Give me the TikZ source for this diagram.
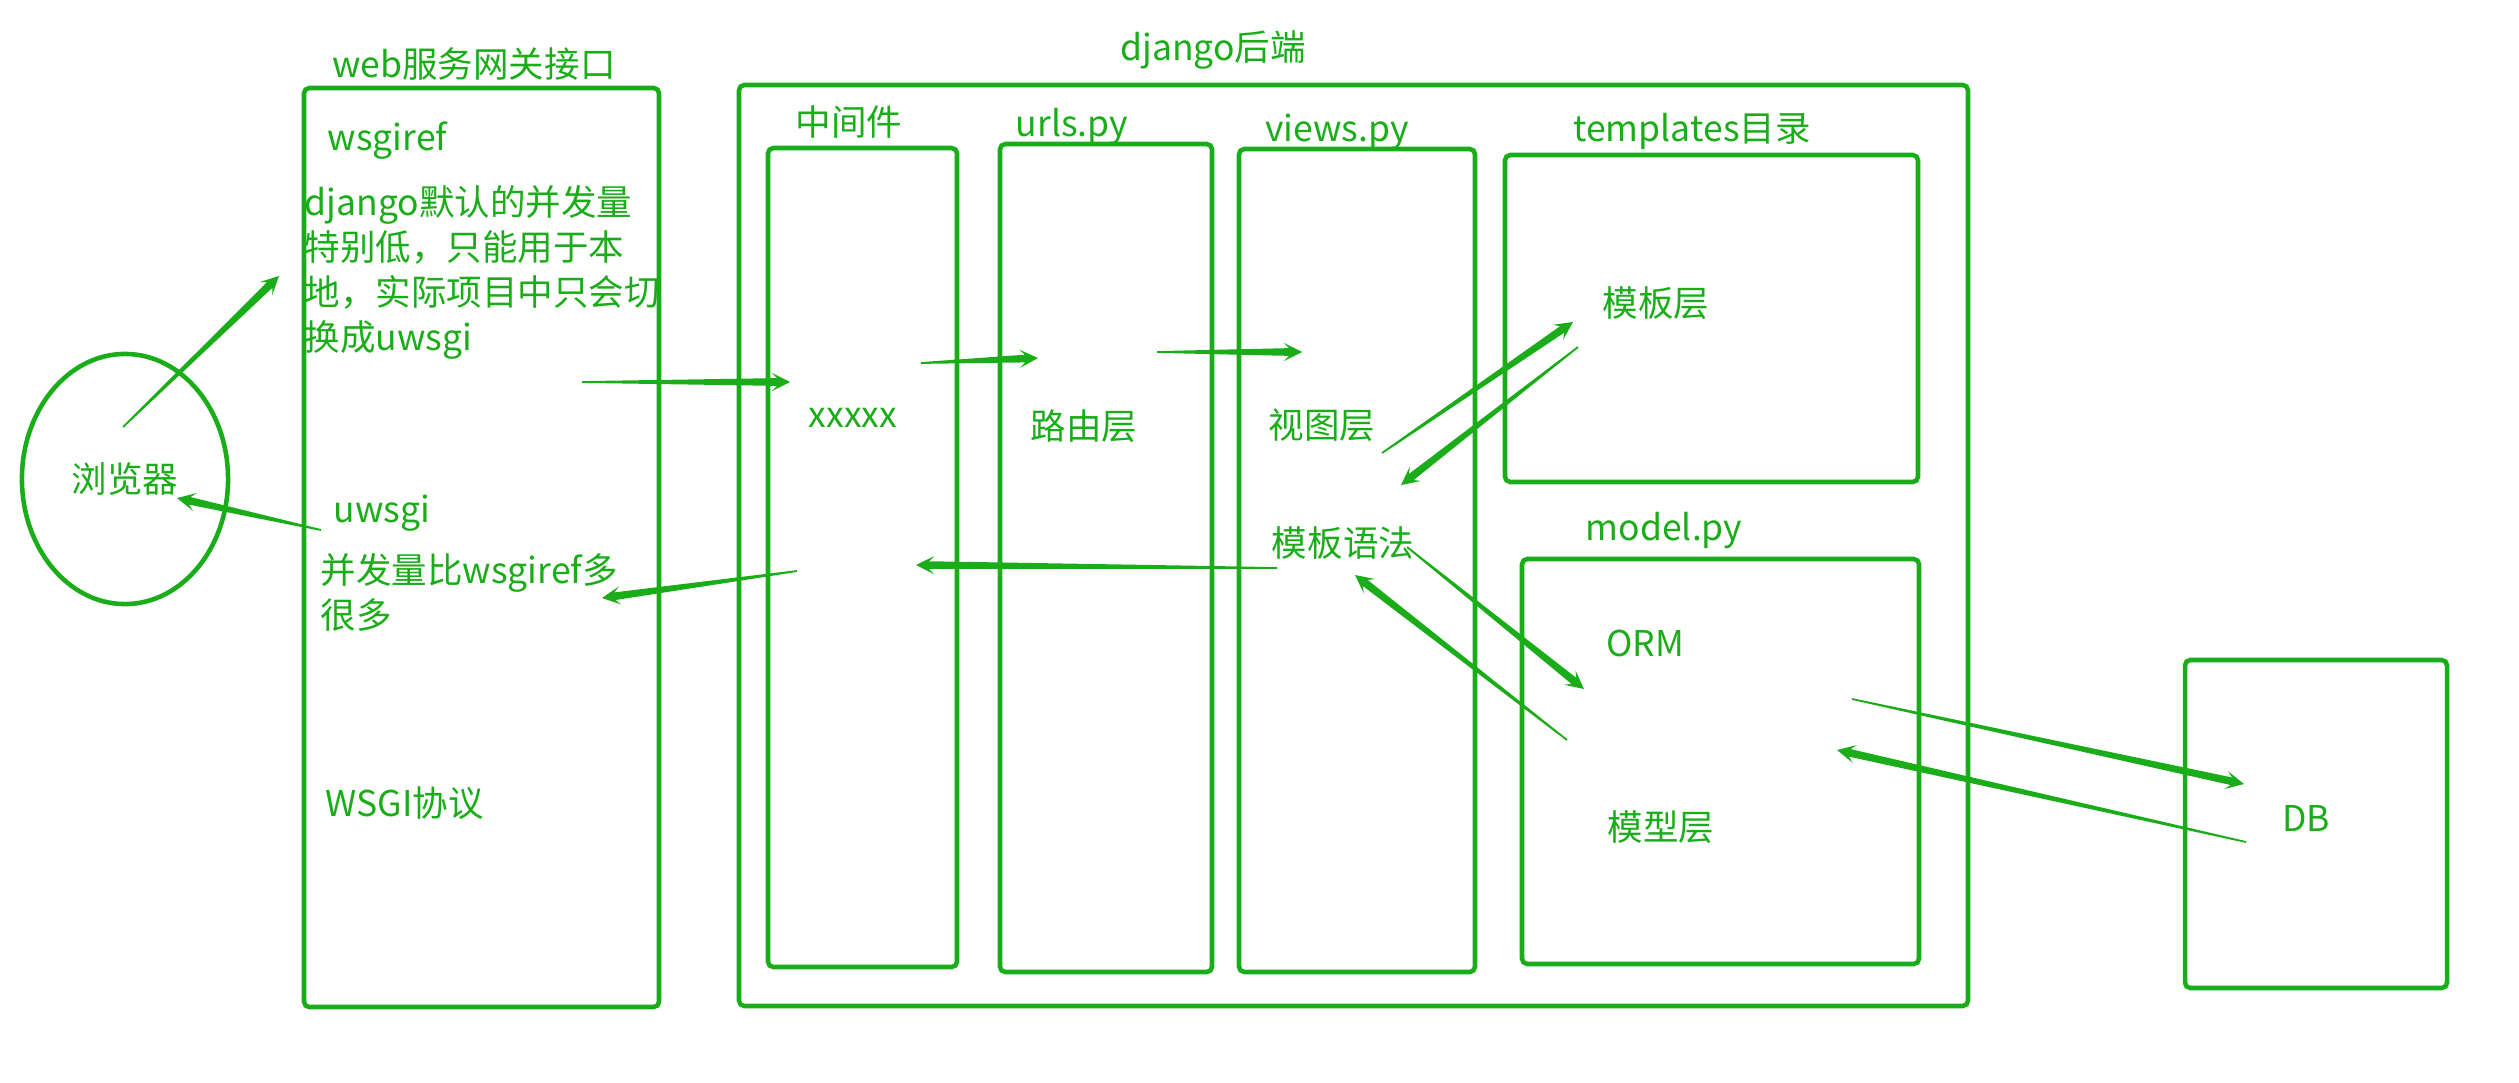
\documentclass[tikz,border=0pt]{standalone}
\usepackage{fontspec}
\newfontfamily\cjk{Noto Sans CJK SC}
\usepackage{tikz}
\usetikzlibrary{calc,fit,shapes.geometric}
\definecolor{wxgreen}{HTML}{1AAD19}

\begin{document}
\begin{tikzpicture}[
    x=0.01cm, y=-0.01cm,
    font={\cjk\fontsize{10.1pt}{12.8pt}\selectfont},
    box/.style={draw=wxgreen, line width=1.3pt, rounded corners=1.5pt, inner sep=0pt},
    ring/.style={draw=wxgreen, line width=1.3pt, ellipse, inner sep=0pt, text=wxgreen},
    lbl/.style={text=wxgreen, inner sep=0pt},
    arr/.style={fill=wxgreen, to path={
        ($(\tikztostart)!0.25pt!90:(\tikztotarget)$)
        -- ($(\tikztotarget)!3.7pt!(\tikztostart)!1.1pt!90:(\tikztotarget)$)
        -- ($(\tikztotarget)!5.2pt!(\tikztostart)!2.6pt!90:(\tikztotarget)$)
        -- (\tikztotarget)
        -- ($(\tikztotarget)!5.2pt!(\tikztostart)!2.6pt!-90:(\tikztotarget)$)
        -- ($(\tikztotarget)!3.7pt!(\tikztostart)!1.1pt!-90:(\tikztotarget)$)
        -- ($(\tikztostart)!0.25pt!-90:(\tikztotarget)$) -- cycle}}
  ]
  \useasboundingbox (0,0) rectangle (2519,1082);

  % boxes
  \node[ring, minimum width=2.06cm, minimum height=2.5cm] (browser) at (125,479) {浏览器};
  \node[box, fit={(304,88) (659,1007)}] (gw) {};
  \node[box, fit={(739,85) (1968,1006)}] (django) {};
  \node[box, fit={(768,148) (957,967)}] (mid) {};
  \node[box, fit={(1000,144) (1212,972)}] (urls) {};
  \node[box, fit={(1239,149) (1475,972)}] (views) {};
  \node[box, fit={(1505,155) (1918,482)}] (tpl) {};
  \node[box, fit={(1522,559) (1919,964)}] (mdl) {};
  \node[box, fit={(2185,660) (2447,988)}] (dbbox) {};

  % titles
  \node[lbl] (gwT) at (474,64) {web服务网关接口};
  \node[lbl] (djT) at (1213,50) {django后端};
  \node[lbl] (midT) at (849,122) {中间件};
  \node[lbl] (urlT) at (1072,127) {urls.py};
  \node[lbl] (viewT) at (1337,132) {views.py};
  \node[lbl] (tplT) at (1692,131) {templates目录};
  \node[lbl] (mdlT) at (1664,531) {model.py};

  % gateway texts
  \node[lbl, anchor=west] (wsgiref) at (327,141) {wsgiref};
  \node[lbl, anchor=north west, align=left] (note1) at (304,185)
    {django默认的并发量\\特别低，只能用于本\\地，实际项目中只会切\\换成uwsgi};
  \node[lbl, anchor=west] (uwsgi) at (333,513) {uwsgi};
  \node[lbl, anchor=north west, align=left] (note2) at (320,553) {并发量比wsgiref多\\很多};
  \node[lbl, anchor=west] (proto) at (325,803) {WSGI协议};

  % layer texts
  \node[lbl] (xx) at (853,418) {xxxxx};
  \node[lbl] (route) at (1084,426) {路由层};
  \node[lbl] (vlayer) at (1322,425) {视图层};
  \node[lbl] (syntax) at (1343,543) {模板语法};
  \node[lbl] (tlayer) at (1656,303) {模板层};
  \node[lbl] (orm) at (1645,643) {ORM};
  \node[lbl] (mlayer) at (1661,827) {模型层};
  \node[lbl] (db) at (2306,818) {DB};

  % arrow ends
  \coordinate (brOut) at (123,427);
  \coordinate (wsIn) at (279,276);
  \coordinate (uwOut) at (321,530);
  \coordinate (brIn) at (177,498);
  \coordinate (gwOut) at (582,382);
  \coordinate (midIn) at (790,382);
  \coordinate (midOut) at (921,363);
  \coordinate (urlIn) at (1038,358);
  \coordinate (urlOut) at (1157,352);
  \coordinate (viewIn) at (1302,352);
  \coordinate (viewBack) at (1277,568);
  \coordinate (midBackIn) at (916,565);
  \coordinate (midBack) at (797,571);
  \coordinate (gwIn) at (602,598);
  \coordinate (vwOut) at (1382,453);
  \coordinate (tplIn) at (1573,322);
  \coordinate (tplOut) at (1578,347);
  \coordinate (vwIn) at (1401,485);
  \coordinate (synOut) at (1407,547);
  \coordinate (ormIn) at (1584,689);
  \coordinate (mdlOut) at (1567,740);
  \coordinate (synIn) at (1355,575);
  \coordinate (mdlDb) at (1852,699);
  \coordinate (dbIn) at (2244,784);
  \coordinate (dbOut) at (2246,842);
  \coordinate (mdlIn) at (1837,750);

  % request / response flow
  \path[arr] (brOut) to (wsIn);
  \path[arr] (uwOut) to (brIn);
  \path[arr] (gwOut) to (midIn);
  \path[arr] (midOut) to (urlIn);
  \path[arr] (urlOut) to (viewIn);
  \path[arr] (viewBack) to (midBackIn);
  \path[arr] (midBack) to (gwIn);
  \path[arr] (vwOut) to (tplIn);
  \path[arr] (tplOut) to (vwIn);
  \path[arr] (synOut) to (ormIn);
  \path[arr] (mdlOut) to (synIn);
  \path[arr] (mdlDb) to (dbIn);
  \path[arr] (dbOut) to (mdlIn);
\end{tikzpicture}
\end{document}
